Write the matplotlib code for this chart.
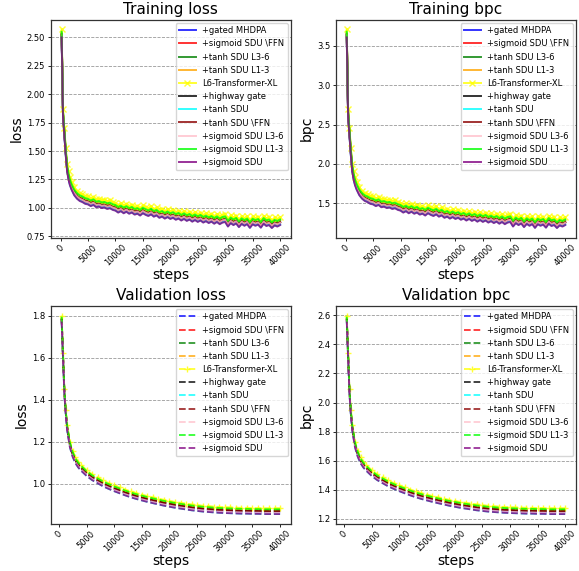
import numpy as np
import matplotlib
matplotlib.use('Agg')
import matplotlib.pyplot as plt

# model names, colours and offsets from the baseline curve (loss, nats)
models = ['+gated MHDPA', '+sigmoid SDU \\FFN', '+tanh SDU L3-6', '+tanh SDU L1-3',
          'L6-Transformer-XL', '+highway gate', '+tanh SDU', '+tanh SDU \\FFN',
          '+sigmoid SDU L3-6', '+sigmoid SDU L1-3', '+sigmoid SDU']
colors = ['blue', 'red', 'green', 'orange', 'yellow', 'black', 'cyan', 'darkred',
          'pink', 'lime', 'purple']
train_offset = [-0.060, -0.045, -0.030, -0.038, 0.0, -0.045, -0.066, -0.047,
                -0.050, -0.020, -0.070]
valid_offset = [-0.020, -0.012, -0.008, -0.010, 0.0, -0.015, -0.028, -0.015,
                -0.022, -0.005, -0.028]

# training loss of the L6-Transformer-XL baseline
train_steps = [200, 450, 700, 950, 1200, 1450, 1700, 2000, 2500, 3000, 3500, 4000,
               4500] + list(range(5000, 40001, 500))
train_base = [2.57, 1.87, 1.70, 1.53, 1.39, 1.32, 1.27, 1.23, 1.18, 1.15, 1.13, 1.12,
              1.105,
              1.100, 1.085, 1.095, 1.075, 1.080, 1.068, 1.072, 1.060, 1.066, 1.052,
              1.045, 1.028, 1.040, 1.022, 1.035, 1.018, 1.028, 1.010, 1.018, 1.002,
              1.022, 1.008, 0.998, 1.012, 0.992, 1.003, 0.982, 0.992, 0.975, 0.988,
              0.972, 0.982, 0.965, 0.975, 0.958, 0.972, 0.955, 0.966, 0.948, 0.962,
              0.946, 0.958, 0.940, 0.952, 0.936, 0.948, 0.930, 0.945, 0.926, 0.940,
              0.945, 0.905, 0.935, 0.918, 0.932, 0.900, 0.928, 0.912, 0.926, 0.893,
              0.925, 0.912, 0.922, 0.895, 0.930, 0.910, 0.918, 0.892, 0.915, 0.905,
              0.918]

# validation loss of the baseline
valid_steps = [500, 750, 1000, 1250, 1500, 2000, 2500, 3000, 3500, 4000] + \
    list(range(5000, 40001, 1000))
valid_base = [1.80, 1.62, 1.45, 1.35, 1.28, 1.20, 1.155, 1.125, 1.105, 1.09,
              1.065, 1.045, 1.030, 1.015, 1.003, 0.992, 0.982, 0.972, 0.963, 0.955,
              0.948, 0.941, 0.935, 0.929, 0.923, 0.918, 0.913, 0.909, 0.905, 0.901,
              0.898, 0.895, 0.893, 0.891, 0.889, 0.888, 0.887, 0.886, 0.885, 0.885,
              0.884, 0.884, 0.883, 0.883, 0.883, 0.883]

LN2 = np.log(2)

fig = plt.figure(figsize=(5.79, 5.71), dpi=100)

panels = [
    ([0.0876, 0.5832, 0.4150, 0.3826], 'Training loss', 'loss', False, 1.0),
    ([0.5800, 0.5832, 0.4150, 0.3826], 'Training bpc', 'bpc', False, LN2),
    ([0.0876, 0.0823, 0.4150, 0.3823], 'Validation loss', 'loss', True, 1.0),
    ([0.5800, 0.0823, 0.4150, 0.3823], 'Validation bpc', 'bpc', True, LN2),
]

for rect, title, ylab, valid, scale in panels:
    ax = fig.add_axes(rect)
    if valid:
        steps, base, offs = valid_steps, valid_base, valid_offset
    else:
        steps, base, offs = train_steps, train_base, train_offset
    for name, col, off in zip(models, colors, offs):
        y = (np.array(base) + off) / scale
        if valid:
            if name == 'L6-Transformer-XL':
                ax.plot(steps, y, '--', color=col, marker='+', ms=5, mew=1.0,
                        lw=1.3, alpha=0.8, label=name)
            else:
                ax.plot(steps, y, '--', color=col, lw=1.3, alpha=0.8, label=name)
        else:
            if name == 'L6-Transformer-XL':
                ax.plot(steps, y, '-', color=col, marker='x', ms=4, mew=1.0,
                        lw=1.4, alpha=0.8, label=name)
            else:
                ax.plot(steps, y, '-', color=col, lw=1.4, alpha=0.8, label=name)

    ax.set_title(title, fontsize=11, pad=4)
    ax.set_ylabel(ylab, fontsize=10, labelpad=2)
    ax.set_xlabel('steps', fontsize=10, labelpad=0)
    ax.set_xticks(np.arange(0, 40001, 5000))
    ax.tick_params(axis='x', labelsize=6, rotation=45, length=2.5, width=0.6, pad=1)
    ax.tick_params(axis='y', labelsize=6, length=2.5, width=0.6, pad=1.5)
    for lab in ax.get_xticklabels():
        lab.set_ha('center')
    ax.yaxis.grid(True, linestyle='--', color='gray', linewidth=0.6, alpha=0.8)
    for sp in ax.spines.values():
        sp.set_linewidth(0.9)
        sp.set_color('#333333')
    ax.legend(loc='upper right', fontsize=6, borderaxespad=0.4, framealpha=0.8,
              handlelength=2.0, labelspacing=0.5)

fig.savefig('out.png', dpi=100)
